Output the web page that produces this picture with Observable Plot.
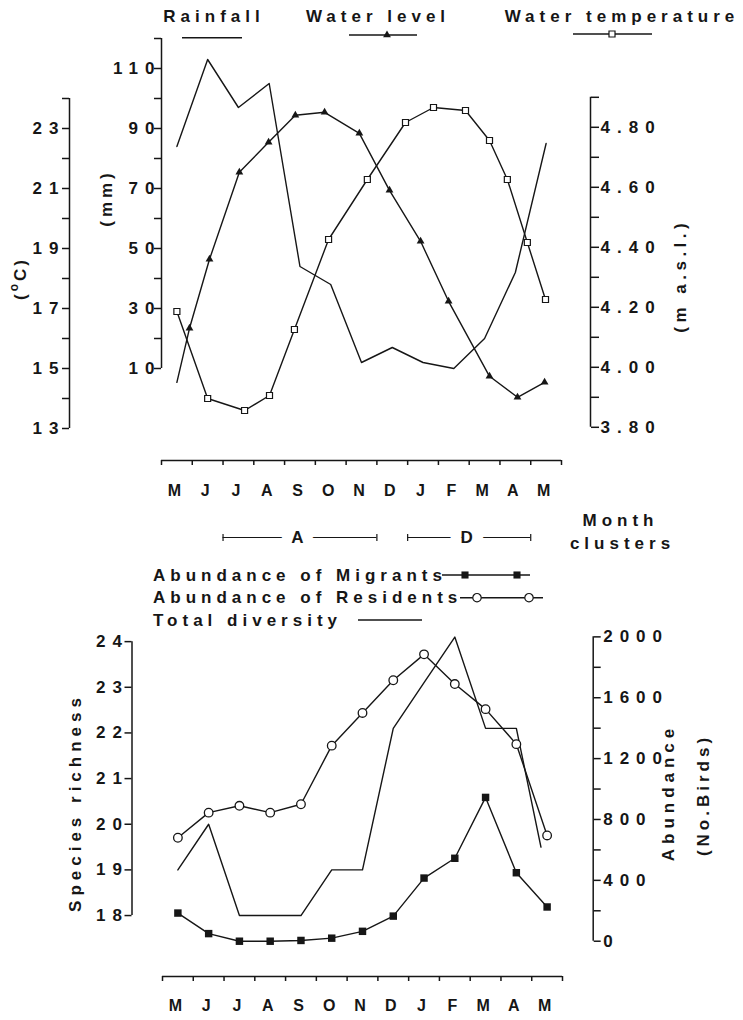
<!DOCTYPE html>
<html>
<head>
<meta charset="utf-8">
<script src="https://cdn.jsdelivr.net/npm/d3@7"></script>
<script src="https://cdn.jsdelivr.net/npm/@observablehq/plot@0.6"></script>
<style>
  html, body { margin: 0; padding: 0; background: #fff; overflow: hidden; }
  #root { position: relative; width: 743px; height: 1020px; background: #fff; }
  #root svg { position: absolute; left: 0; }
  #root svg text { letter-spacing: 5px; font-weight: bold; }
  #root g[aria-label="y-axis tick label"] text { letter-spacing: 7px; }
  #root g[aria-label="month label"] text,
  #root g[aria-label="cluster label"] text { letter-spacing: 0px; }
</style>
</head>
<body>
<div id="root"></div>
<script>
// ---------------- data ----------------
const months = ["M","J","J","A","S","O","N","D","J","F","M","A","M"];

// top panel
const rainfall = [84, 113, 97, 105, 44, 38, 12, 17, 12, 10, 20, 42, 85];          // mm
const levelStartPos = 0;
const levelStart = 3.95;                                                             // m a.s.l. (line start, no marker)
const levelPos = [0.41, 1.06, 2.03, 2.98, 3.85, 4.80, 5.93, 6.91, 7.92, 8.83, 10.16, 11.07, 11.95];
const level = [4.13, 4.36, 4.65, 4.75, 4.84, 4.85, 4.78, 4.59, 4.42, 4.22, 3.97, 3.90, 3.95];
const tempPos = [0, 1.0, 2.2, 3.01, 3.82, 4.93, 6.19, 7.43, 8.34, 9.38, 10.16, 10.74, 11.39, 11.98];
const temperature = [16.9, 14.0, 13.6, 14.1, 16.3, 19.3, 21.3, 23.2, 23.7, 23.6, 22.6, 21.3, 19.2, 17.3]; // °C

const mmTicks = [10, 30, 50, 70, 90, 110];
const mmMinor = [20, 40, 60, 80, 100, 120];
const cTicks = [13, 15, 17, 19, 21, 23];
const cMinor = [14, 16, 18, 20, 22, 24];
const levelTicks = [3.8, 4.0, 4.2, 4.4, 4.6, 4.8];
const levelMinor = [3.9, 4.1, 4.3, 4.5, 4.7, 4.9];

const clusterNames = ["A", "D"];
const clusterFirst = [2, 8];   // first month index of cluster
const clusterLast = [6, 11];   // last month index of cluster

// bottom panel
const richness = [19, 20, 18, 18, 18, 19, 19, 22.1, 23.1, 24.1, 22.1, 22.1, 19.5];
const richnessPos = [0, 1, 2, 3, 4, 5, 6, 7, 8, 9, 10, 11, 11.8];
const residents = [680, 845, 890, 845, 900, 1285, 1500, 1715, 1885, 1690, 1525, 1295, 695];
const migrants = [185, 50, 0, 0, 5, 20, 65, 165, 415, 545, 945, 450, 225];
const richTicks = [18, 19, 20, 21, 22, 23, 24];
const abTicks = [0, 400, 800, 1200, 1600, 2000];
const abMinor = [200, 600, 1000, 1400, 1800];

// ---------------- scale alignment between the shared axes ----------------
const cToMm = c => 10 * c - 140;
const mmToC = mm => (mm + 140) / 10;
const levelToMm = l => (l - 3.8) * 100 - 9.6;
const mmToLevel = mm => (mm + 9.6) / 100 + 3.8;
const AB0 = 17.4376;
const abToR = a => AB0 + a / 300;
const rToAb = r => (r - AB0) * 300;

// ---------------- style ----------------
const FONT = "'Liberation Sans', Arial, Helvetica, sans-serif";
const INK = "#161616";
const W = 743;
const baseStyle = {
  fontFamily: FONT, fontSize: "17px", fontWeight: "bold",
  color: INK, background: "transparent", overflow: "visible"
};
const SW = 1.5;   // axis stroke
const LW = 1.4;   // data line stroke
const bounds = d3.range(-0.5, 13, 1);
const vbar = { draw(ctx, size) { const h = Math.sqrt(size / Math.PI); ctx.moveTo(0, -h); ctx.lineTo(0, h); } };

const root = document.getElementById("root");

// ---------------- top panel ----------------
const Y1 = [-10, 120];
const levelRows = levelPos.map((p, i) => ({pos: p, v: level[i]}));
const levelLine = [{pos: levelStartPos, v: levelStart}, ...levelRows];
const tempRows = tempPos.map((p, i) => ({pos: p, v: temperature[i]}));
const clusters = clusterNames.map((name, i) => ({name, first: clusterFirst[i], last: clusterLast[i]}));

const p1 = Plot.plot({
  width: W, height: 560,
  marginLeft: 161, marginRight: 182, marginTop: 38, marginBottom: 132,
  x: {domain: [-0.5, 12.5], label: null},
  y: {domain: Y1, label: null},
  style: baseStyle,
  marks: [
    // rainfall axis (mm)
    Plot.ruleX([-0.5], {y1: 10, y2: 120, strokeWidth: SW}),
    Plot.axisY(mmTicks, {anchor: "left", tickSize: 7, tickPadding: -7, strokeWidth: SW, fontWeight: "bold", tickFormat: d => String(d)}),
    Plot.axisY(mmMinor, {anchor: "left", tickSize: 7, strokeWidth: SW, tickFormat: () => ""}),
    // temperature axis (°C)
    Plot.ruleX([-0.5], {y1: cToMm(13), y2: cToMm(24), dx: -92, strokeWidth: SW}),
    Plot.axisY(cTicks.map(cToMm), {anchor: "left", dx: -92, tickSize: 7, tickPadding: -3, strokeWidth: SW, fontWeight: "bold",
      tickFormat: mm => String(Math.round(mmToC(mm)))}),
    Plot.axisY(cMinor.map(cToMm), {anchor: "left", dx: -92, tickSize: 7, strokeWidth: SW, tickFormat: () => ""}),
    // water level axis (m a.s.l.)
    Plot.ruleX([12.5], {y1: levelToMm(3.8), y2: levelToMm(4.9), dx: 29, strokeWidth: SW}),
    Plot.axisY(levelTicks.map(levelToMm), {anchor: "right", dx: 29, tickSize: 8, tickPadding: 2, strokeWidth: SW, fontWeight: "bold",
      tickFormat: mm => mmToLevel(mm).toFixed(2)}),
    Plot.axisY(levelMinor.map(levelToMm), {anchor: "right", dx: 29, tickSize: 8, strokeWidth: SW, tickFormat: () => ""}),
    // month axis
    Plot.ruleY([Y1[0]], {dy: 32, strokeWidth: SW}),
    Plot.axisX(bounds, {anchor: "bottom", dy: 32, tickSize: 5, strokeWidth: SW, tickFormat: () => ""}),
    Plot.text(months, {x: (d, i) => i, frameAnchor: "bottom", dy: 67, text: d => d, fontSize: 16, fontWeight: "bold", ariaLabel: "month label"}),
    // month clusters
    Plot.ruleY(clusters, {x1: d => d.first - 0.5, x2: d => d.last + 0.5, y: Y1[0], dy: 109, strokeWidth: 1.2}),
    Plot.dot(clusters.flatMap(d => [d.first - 0.5, d.last + 0.5]), {x: d => d, y: Y1[0], dy: 109, symbol: vbar, r: 3.5,
      fill: "none", stroke: INK, strokeWidth: 1.2}),
    Plot.text(clusters, {x: d => (d.first + d.last) / 2, y: Y1[0], dy: 109, text: "name", fontSize: 17, fontWeight: "bold",
      fill: INK, stroke: "white", strokeWidth: 22, strokeLinejoin: "round", ariaLabel: "cluster label"}),
    // data
    Plot.line(rainfall, {x: (d, i) => i, y: d => d, stroke: INK, strokeWidth: LW}),
    Plot.line(levelLine, {x: "pos", y: d => levelToMm(d.v), stroke: INK, strokeWidth: LW}),
    Plot.line(tempRows, {x: "pos", y: d => cToMm(d.v), stroke: INK, strokeWidth: LW}),
    Plot.dot(levelRows, {x: "pos", y: d => levelToMm(d.v), symbol: "triangle", r: 2.9, fill: INK}),
    Plot.dot(tempRows, {x: "pos", y: d => cToMm(d.v), symbol: "square", r: 3.4, fill: "white", stroke: INK, strokeWidth: 1.2})
  ]
});
p1.style.top = "0px";
root.appendChild(p1);

// ---------------- bottom panel ----------------
const Y2 = [17.3, 24.2];
const p2 = Plot.plot({
  width: W, height: 400,
  marginLeft: 162, marginRight: 181, marginTop: 12, marginBottom: 73,
  x: {domain: [-0.5, 12.5], label: null},
  y: {domain: Y2, label: null},
  style: baseStyle,
  marks: [
    // species richness axis
    Plot.ruleX([-0.5], {y1: 18, y2: 24, dx: -30.5, strokeWidth: SW}),
    Plot.axisY(richTicks, {anchor: "left", dx: -30.5, tickSize: 7, tickPadding: -4, strokeWidth: SW, fontWeight: "bold", tickFormat: d => String(d)}),
    // abundance axis
    Plot.ruleX([12.5], {y1: abToR(0), y2: abToR(2000), dx: 30.7, strokeWidth: SW}),
    Plot.axisY(abTicks.map(abToR), {anchor: "right", dx: 30.7, tickSize: 7, tickPadding: 3, strokeWidth: SW, fontWeight: "bold",
      tickFormat: r => String(Math.round(rToAb(r)))}),
    Plot.axisY(abMinor.map(abToR), {anchor: "right", dx: 30.7, tickSize: 7, strokeWidth: SW, tickFormat: () => ""}),
    // month axis
    Plot.ruleY([Y2[0]], {dy: 29, strokeWidth: SW}),
    Plot.axisX(bounds, {anchor: "bottom", dy: 29, tickSize: 5, strokeWidth: SW, tickFormat: () => ""}),
    Plot.text(months, {x: (d, i) => i, frameAnchor: "bottom", dy: 63, text: d => d, fontSize: 16, fontWeight: "bold", ariaLabel: "month label"}),
    // data
    Plot.line(richness, {x: (d, i) => richnessPos[i], y: d => d, stroke: INK, strokeWidth: LW}),
    Plot.line(residents, {x: (d, i) => i, y: d => abToR(d), stroke: INK, strokeWidth: LW}),
    Plot.line(migrants, {x: (d, i) => i, y: d => abToR(d), stroke: INK, strokeWidth: LW}),
    Plot.dot(residents, {x: (d, i) => i, y: d => abToR(d), symbol: "circle", r: 4.3, fill: "white", stroke: INK, strokeWidth: 1.3}),
    Plot.dot(migrants, {x: (d, i) => i, y: d => abToR(d), symbol: "square", r: 4.2, fill: INK})
  ]
});
p2.style.top = "620px";
root.appendChild(p2);

// ---------------- legends and axis titles (overlay) ----------------
const ov = d3.select(root).append("svg")
  .attr("width", W).attr("height", 1020)
  .style("top", "0px").style("pointer-events", "none")
  .attr("font-family", FONT).attr("font-weight", "bold").attr("font-size", 17).attr("fill", INK);

function label(s, x, y, {anchor = "start", rotate = 0, size = 17, ls = 5} = {}) {
  const t = ov.append("text")
    .attr("transform", `translate(${x},${y})` + (rotate ? ` rotate(${rotate})` : ""))
    .attr("text-anchor", anchor).attr("dominant-baseline", "central")
    .attr("font-size", size).style("letter-spacing", ls + "px");
  if (anchor === "middle") t.attr("dx", ls / 2);
  if (s != null) t.text(s);
  return t;
}
function swLine(x1, x2, y) {
  ov.append("line").attr("x1", x1).attr("x2", x2).attr("y1", y).attr("y2", y)
    .attr("stroke", INK).attr("stroke-width", LW);
}
function swSym(type, x, y, area, fill) {
  ov.append("path").attr("d", d3.symbol(type, area)()).attr("transform", `translate(${x},${y})`)
    .attr("fill", fill).attr("stroke", INK).attr("stroke-width", fill === "white" ? 1.2 : 0);
}

// header legend
label("Rainfall", 211.5, 16, {anchor: "middle"});
label("Water level", 375.5, 16, {anchor: "middle"});
label("Water temperature", 619.5, 16, {anchor: "middle"});
swLine(182, 242, 37.7);
swLine(349, 417, 35); swSym(d3.symbolTriangle, 387, 35, Math.PI * 2.9 * 2.9, INK);
swLine(573, 652, 34); swSym(d3.symbolSquare, 612, 34, Math.PI * 3.4 * 3.4, "white");

// axis titles, top panel
label("(mm)", 106, 200, {anchor: "middle", rotate: -90, ls: 4});
{
  const t = label(null, 20, 280, {anchor: "middle", rotate: -90, ls: 3});
  t.append("tspan").text("(");
  t.append("tspan").attr("font-size", 12).attr("dy", -6).text("o");
  t.append("tspan").attr("dy", 6).text("C)");
}
label("(m a.s.l.)", 680, 278, {anchor: "middle", rotate: -90, ls: 4.5});

// month clusters caption
label("Month", 618, 520, {anchor: "middle"});
label("clusters", 620, 543, {anchor: "middle"});

// bottom legend
label("Abundance of Migrants", 153, 575);
swLine(442, 530, 575); swSym(d3.symbolSquare, 465, 575, Math.PI * 4 * 4, INK); swSym(d3.symbolSquare, 517, 575, Math.PI * 4 * 4, INK);
label("Abundance of Residents", 153, 597.7);
swLine(460, 543, 597.7); swSym(d3.symbolCircle, 477, 597.7, Math.PI * 4.2 * 4.2, "white"); swSym(d3.symbolCircle, 529, 597.7, Math.PI * 4.2 * 4.2, "white");
label("Total diversity", 153, 620);
swLine(358, 422, 620);

// axis titles, bottom panel
label("Species richness", 75, 805, {anchor: "middle", rotate: -90});
label("Abundance", 668, 795, {anchor: "middle", rotate: -90});
label("(No.Birds)", 703, 797, {anchor: "middle", rotate: -90, ls: 4});
</script>
</body>
</html>
